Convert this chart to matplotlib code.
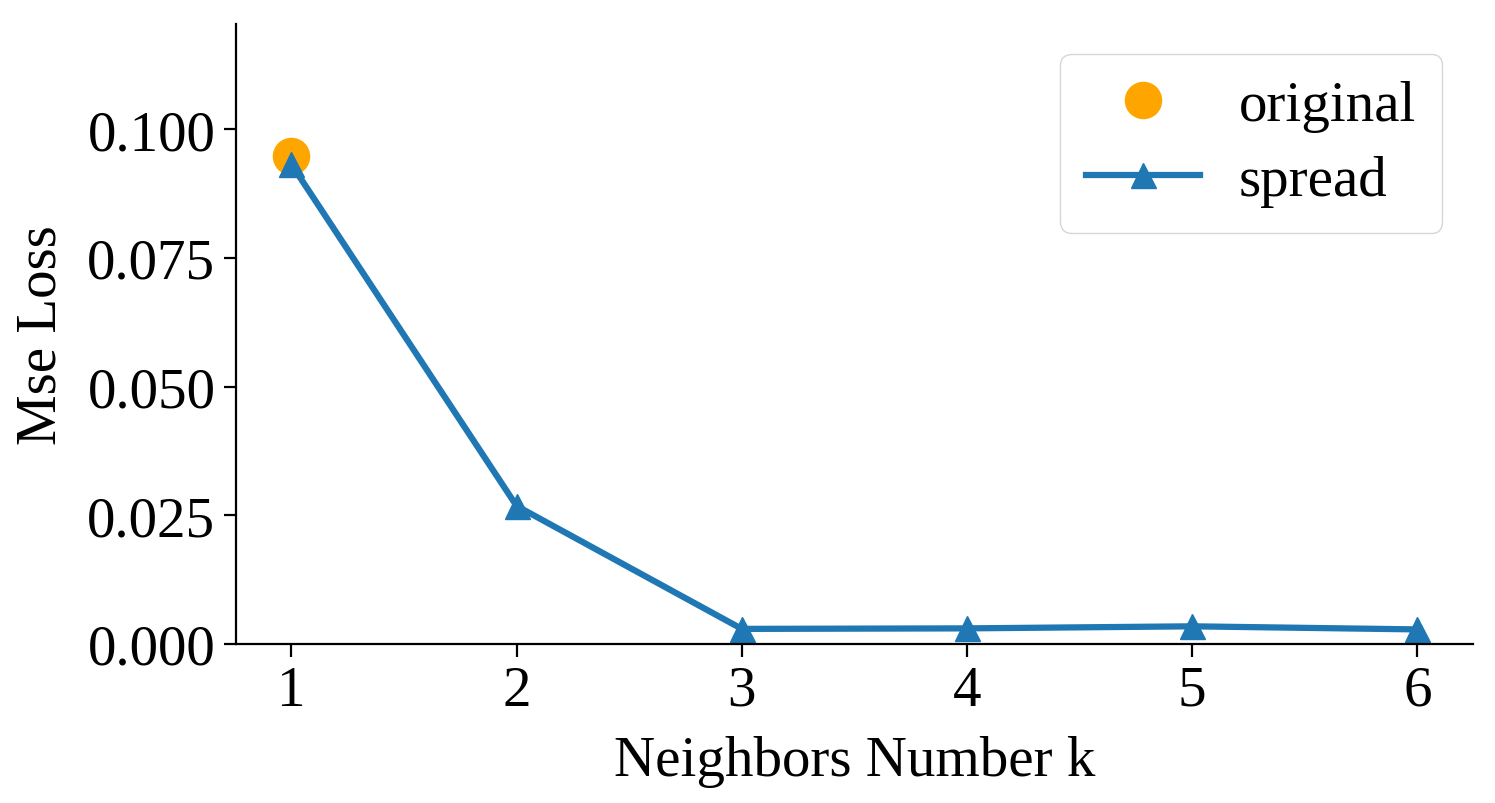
import matplotlib
matplotlib.use("Agg")
import matplotlib.pyplot as plt

k_values = [1, 2, 3, 4, 5, 6]
spread_loss = [0.0932, 0.0268, 0.0029, 0.0030, 0.0034, 0.0028]
original_k = [1]
original_loss = [0.0949]
y_ticks = [0.000, 0.025, 0.050, 0.075, 0.100]

plt.rcParams['font.family'] = ['Liberation Serif', 'DejaVu Serif']
plt.rcParams['font.size'] = 41

fig = plt.figure(figsize=(14.95, 8.04), dpi=100)
ax = fig.add_axes([0.158, 0.198, 0.827, 0.771])

ax.plot(original_k, original_loss, 'o', color='orange', markersize=26, label='original')
ax.plot(k_values, spread_loss, '-^', color='#1f77b4', linewidth=4.5, markersize=18, label='spread')

ax.set_xlim(0.755, 6.245)
ax.set_ylim(0, 0.1205)
ax.set_xticks(k_values)
ax.set_yticks(y_ticks)
ax.set_yticklabels([f"{v:.3f}" for v in y_ticks])
ax.set_xlabel('Neighbors Number k', labelpad=13)
ax.set_ylabel('Mse Loss', labelpad=14)

for s in ['top', 'right']:
    ax.spines[s].set_visible(False)
for s in ['left', 'bottom']:
    ax.spines[s].set_linewidth(1.6)
ax.tick_params(width=1.6, length=9, pad=6)

ax.legend(loc='upper right', frameon=True, borderpad=0.46, handlelength=2.0,
          handletextpad=0.68, labelspacing=0.39, borderaxespad=0.53)

fig.savefig('out.png', dpi=100)
